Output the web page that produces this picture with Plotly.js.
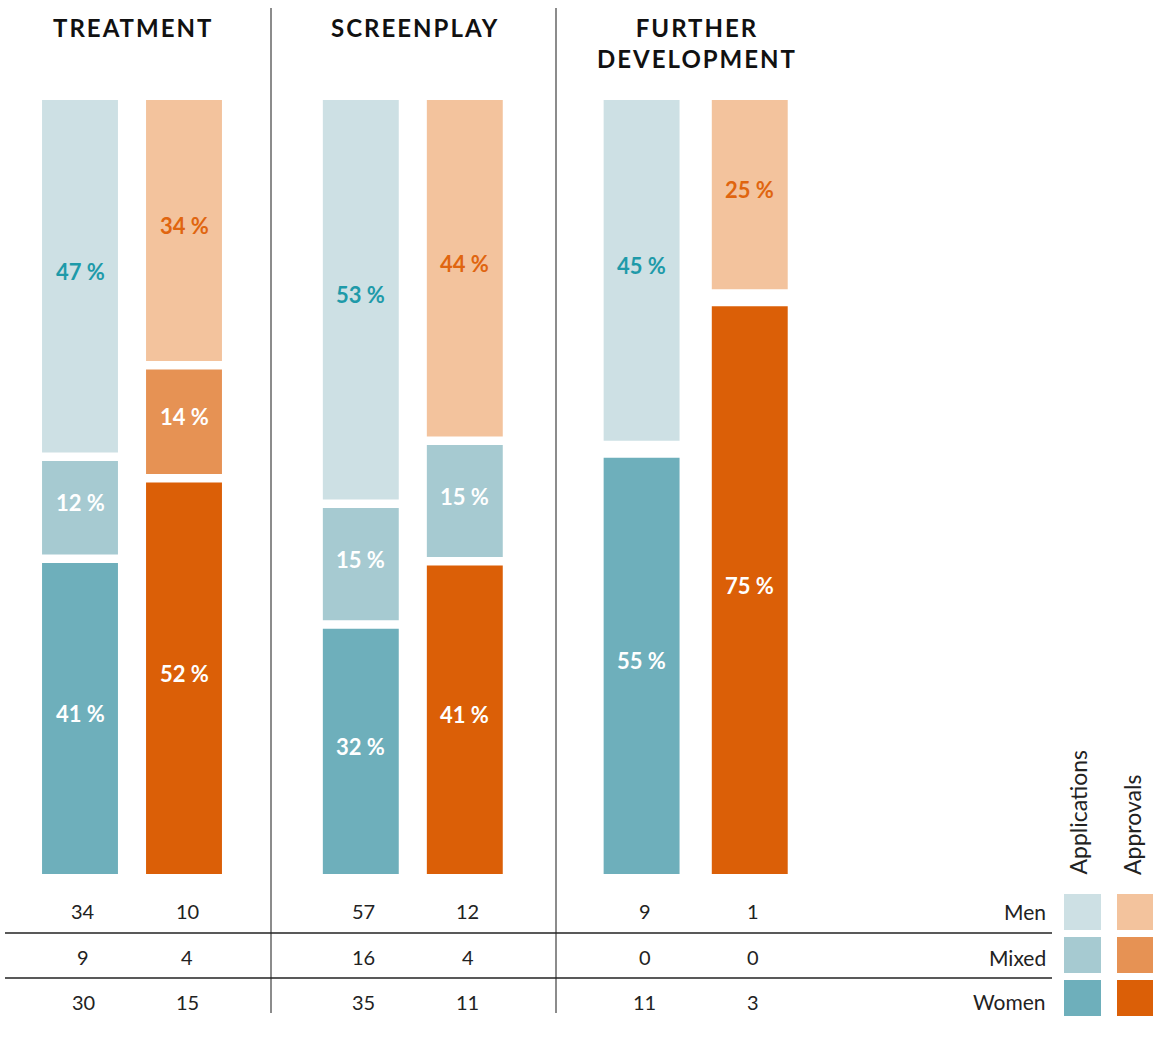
<!DOCTYPE html>
<html>
<head>
<meta charset="utf-8">
<script src="https://cdn.plot.ly/plotly-3.0.1.min.js"></script>
<style>
  html, body { margin: 0; padding: 0; background: #fff; }
  #chart { width: 1160px; height: 1038px; }
</style>
</head>
<body>
<div id="chart"></div>
<script>
// ---------- DATA ----------
const groups = ['TREATMENT', 'SCREENPLAY', 'FURTHER<br>DEVELOPMENT'];
const rowLabels = ['Men', 'Mixed', 'Women'];
const seriesLabels = ['Applications', 'Approvals'];
const appMen = [34, 57, 9];
const appMixed = [9, 16, 0];
const appWomen = [30, 35, 11];
const aprMen = [10, 12, 1];
const aprMixed = [4, 4, 0];
const aprWomen = [15, 11, 3];

// ---------- STYLE ----------
const FONT = 'Lato, "Noto Sans", sans-serif';
const colors = {
  app: { Men: '#cde0e4', Mixed: '#a6cad1', Women: '#6eafbb' },
  apr: { Men: '#f3c39d', Mixed: '#e69254', Women: '#db5f07' }
};
// per-group segment colours (the reference draws Screenplay's mixed approvals in teal)
const segColors = {
  app: { Men: [colors.app.Men, colors.app.Men, colors.app.Men],
         Mixed: [colors.app.Mixed, colors.app.Mixed, colors.app.Mixed],
         Women: [colors.app.Women, colors.app.Women, colors.app.Women] },
  apr: { Men: [colors.apr.Men, colors.apr.Men, colors.apr.Men],
         Mixed: [colors.apr.Mixed, colors.app.Mixed, colors.apr.Mixed],
         Women: [colors.apr.Women, colors.apr.Women, colors.apr.Women] }
};
const menText = { app: '#1e9aa9', apr: '#e0650f' };
const GAP = 1.123;            // white gap between stacked segments (y units)
const W = 1160, H = 1038, PLOT_TOP = 100, PLOT_BOTTOM = 874;
const px2x = p => p / W;
const py2y = p => (PLOT_BOTTOM - p) / (PLOT_BOTTOM - PLOT_TOP);

// x positions (data units: 1 unit = distance between the two bars in a group)
const groupStep = 2.7;
const xPos = (g, s) => g * groupStep + s * (g === 2 ? 1.04 : 1.0);

function pct(arr, i, tot) { return tot[i] ? arr[i] / tot[i] * 100 : 0; }

const traces = [];
const annotations = [];
const sets = [
  { key: 'app', s: 0, men: appMen, mixed: appMixed, women: appWomen },
  { key: 'apr', s: 1, men: aprMen, mixed: aprMixed, women: aprWomen }
];
sets.forEach(set => {
  const tot = set.men.map((v, i) => v + set.mixed[i] + set.women[i]);
  const pW = set.women.map((v, i) => pct(set.women, i, tot));
  const pX = set.mixed.map((v, i) => pct(set.mixed, i, tot));
  const pM = set.men.map((v, i) => pct(set.men, i, tot));
  const xs = groups.map((g, i) => xPos(i, set.s));
  const seg = [
    { name: 'Women', h: pW, base: pW.map(() => 0) },
    { name: 'Mixed', h: pX, base: pW.map(v => v + GAP) },
    { name: 'Men', h: pM, base: pW.map((v, i) => v + pX[i] + 2 * GAP) }
  ];
  seg.forEach(sg => {
    traces.push({
      type: 'bar',
      x: xs,
      y: sg.h,
      base: sg.base,
      width: 0.73,
      marker: { color: segColors[set.key][sg.name], line: { width: 0 } },
      hoverinfo: 'skip',
      showlegend: false
    });
    sg.h.forEach((v, i) => {
      if (v <= 0) return;
      annotations.push({
        xref: 'x', yref: 'y', x: xs[i], y: sg.base[i] + v / 2, yshift: 5,
        xanchor: 'center', yanchor: 'middle', showarrow: false,
        text: '<b>' + Math.round(v) + ' %</b>',
        font: { family: FONT, size: 22,
                color: sg.name === 'Men' ? menText[set.key] : '#ffffff' }
      });
    });
  });
});

// ---------- TEXT ----------
const titleX = [133, 415, 697];
groups.forEach((g, i) => {
  annotations.push({
    xref: 'paper', yref: 'paper', x: px2x(titleX[i]), y: py2y(11),
    xanchor: 'center', yanchor: 'top', text: '<b>' + g + '</b>', showarrow: false,
    font: { family: FONT, size: 24, color: '#111' }, align: 'center'
  });
});
const tableRows = [
  { y: 911, app: appMen, apr: aprMen },
  { y: 957, app: appMixed, apr: aprMixed },
  { y: 1002, app: appWomen, apr: aprWomen }
];
tableRows.forEach((r, ri) => {
  groups.forEach((g, i) => {
    [r.app, r.apr].forEach((arr, s) => {
      annotations.push({
        xref: 'x', yref: 'paper', x: xPos(i, s) + 0.03, y: py2y(r.y),
        xanchor: 'center', yanchor: 'middle', text: String(arr[i]), showarrow: false,
        font: { family: FONT, size: 20, color: '#222' }
      });
    });
  });
  annotations.push({
    xref: 'paper', yref: 'paper', x: px2x(1048), y: py2y(r.y),
    xanchor: 'right', yanchor: 'middle', text: rowLabels[ri], showarrow: false,
    font: { family: FONT, size: 21, color: '#222' }
  });
});
[1077, 1132].forEach((xp, s) => {
  annotations.push({
    xref: 'paper', yref: 'paper', x: px2x(xp), y: py2y(877),
    xanchor: 'center', yanchor: 'bottom', textangle: -90, text: seriesLabels[s], showarrow: false,
    font: { family: FONT, size: 23, color: '#222' }
  });
});

// ---------- SHAPES ----------
const shapes = [];
[271, 556].forEach(xp => shapes.push({
  type: 'line', xref: 'paper', yref: 'paper',
  x0: px2x(xp), x1: px2x(xp), y0: py2y(8), y1: py2y(1013),
  line: { color: '#666', width: 1.5 }
}));
[933, 978].forEach(yp => shapes.push({
  type: 'line', xref: 'paper', yref: 'paper',
  x0: px2x(5), x1: px2x(1052), y0: py2y(yp), y1: py2y(yp),
  line: { color: '#222', width: 1.5 }
}));
const swRows = [[894, 930, 'Men'], [937, 973, 'Mixed'], [980, 1016, 'Women']];
swRows.forEach(r => {
  shapes.push({ type: 'rect', xref: 'paper', yref: 'paper', x0: px2x(1064), x1: px2x(1101),
    y0: py2y(r[1]), y1: py2y(r[0]), fillcolor: colors.app[r[2]], line: { width: 0 } });
  shapes.push({ type: 'rect', xref: 'paper', yref: 'paper', x0: px2x(1117), x1: px2x(1153),
    y0: py2y(r[1]), y1: py2y(r[0]), fillcolor: colors.apr[r[2]], line: { width: 0 } });
});

const layout = {
  width: W, height: H,
  margin: { l: 0, r: 0, t: PLOT_TOP, b: H - PLOT_BOTTOM, pad: 0 },
  paper_bgcolor: '#fff', plot_bgcolor: '#fff',
  barmode: 'overlay',
  showlegend: false,
  font: { family: FONT },
  xaxis: { range: [-80 / 104, (W - 80) / 104], visible: false, fixedrange: true },
  yaxis: { range: [0, 100 + 2 * GAP], visible: false, fixedrange: true },
  annotations: annotations,
  shapes: shapes
};

Plotly.newPlot('chart', traces, layout, { staticPlot: true, displayModeBar: false }).then(() => {
  document.querySelectorAll('.annotation-text').forEach(t => {
    if (/TREATMENT|SCREENPLAY|FURTHER|DEVELOPMENT/.test(t.textContent)) {
      t.style.letterSpacing = '2px';
    }
  });
});
</script>
</body>
</html>
